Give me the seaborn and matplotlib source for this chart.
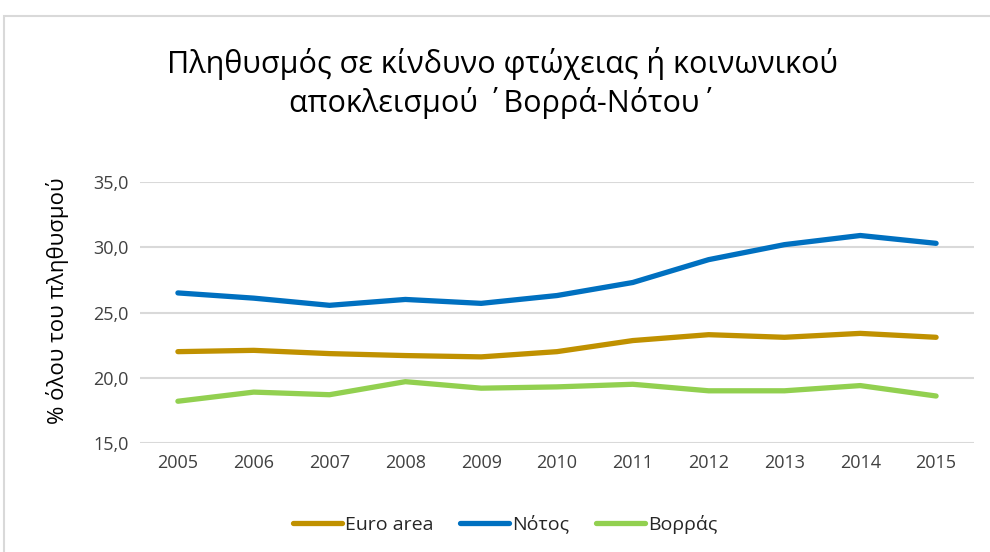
import pandas as pd
import matplotlib
matplotlib.use("Agg")
import matplotlib.pyplot as plt
import seaborn as sns
from matplotlib.patches import Rectangle

# -----------------------------
# data
# -----------------------------
years = ["2005", "2006", "2007", "2008", "2009", "2010",
         "2011", "2012", "2013", "2014", "2015"]
euro_area = [22.0, 22.1, 21.85, 21.7, 21.6, 22.0, 22.85, 23.3, 23.1, 23.4, 23.1]
notos = [26.5, 26.1, 25.55, 26.0, 25.7, 26.3, 27.3, 29.05, 30.2, 30.9, 30.3]
vorras = [18.2, 18.9, 18.7, 19.7, 19.2, 19.3, 19.5, 19.0, 19.0, 19.4, 18.6]
series_names = ["Euro area", "Νότος", "Βορράς"]
y_ticks = [15, 20, 25, 30, 35]

df = pd.DataFrame({
    "year": years * 3,
    "value": euro_area + notos + vorras,
    "series": [s for s in series_names for _ in years],
})
df["pos"] = df["year"].map({y: i for i, y in enumerate(years)})

# -----------------------------
# style
# -----------------------------
sns.set_theme(style="white")
plt.rcParams["font.family"] = ["Open Sans", "DejaVu Sans"]

palette = {"Euro area": "#C09100", "Νότος": "#0070C0", "Βορράς": "#92D050"}
lw = 3.8

fig = plt.figure(figsize=(9.9, 5.52), dpi=100)
ax = fig.add_axes([140 / 990, 1 - 443 / 552, 834 / 990, 261 / 552])

# chart-area border
fig.patches.append(Rectangle((4 / 990, -0.01), 1.0, 1 - 16 / 552 + 0.01,
                             transform=fig.transFigure, fill=False,
                             edgecolor="#d9d9d9", linewidth=1.5))

sns.lineplot(data=df, x="pos", y="value", hue="series", palette=palette,
             hue_order=series_names, linewidth=lw, ax=ax,
             solid_capstyle="round", legend=True)

ax.set_xlim(-0.5, len(years) - 0.5)
ax.set_ylim(15, 35)
ax.set_xticks(range(len(years)))
ax.set_xticklabels(years, fontsize=13, color="#404040")
ax.set_yticks(y_ticks)
ax.set_yticklabels([f"{t:.1f}".replace(".", ",") for t in y_ticks],
                   fontsize=13, color="#404040")
ax.tick_params(axis="both", length=0, pad=8)
ax.yaxis.grid(True, color="#d9d9d9", linewidth=1.5)
ax.set_axisbelow(True)
sns.despine(ax=ax, left=True, bottom=True, top=True, right=True)

ax.set_xlabel("")
ax.set_ylabel("% όλου του πληθυσμού", fontsize=16, color="#000000")
ax.yaxis.set_label_coords(-0.085, 0.545)

fig.text(0.508, 1 - 63 / 552, "Πληθυσμός σε κίνδυνο φτώχειας ή κοινωνικού",
         ha="center", va="center", fontsize=22, color="#000000")
fig.text(0.508, 1 - 103 / 552, "αποκλεισμού ΄Βορρά-Νότου΄",
         ha="center", va="center", fontsize=22, color="#000000")

leg = ax.legend(loc="center", bbox_to_anchor=(505 / 990, 1 - 524 / 552),
                bbox_transform=fig.transFigure, ncol=3, frameon=False,
                fontsize=14, handlelength=2.5, handletextpad=0.15,
                columnspacing=1.4)
for line in leg.get_lines():
    line.set_linewidth(lw)

fig.savefig("out.png", dpi=100)
